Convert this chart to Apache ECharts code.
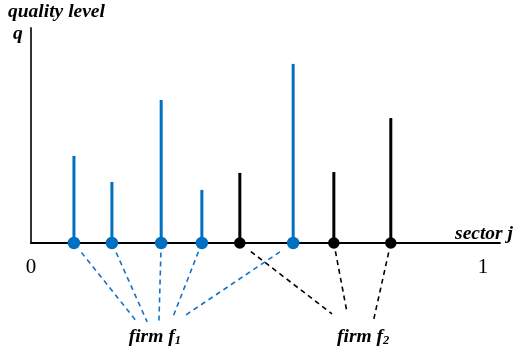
<!DOCTYPE html>
<html>
<head>
<meta charset="utf-8">
<script src="https://cdn.jsdelivr.net/npm/echarts@6/dist/echarts.min.js"></script>
<style>html,body{margin:0;padding:0;background:#fff}#c{width:515px;height:349px}</style>
</head>
<body>
<div id="c"></div>
<script>
// sector position j in [0,1]
const sectorX = [0.095, 0.179, 0.288, 0.378, 0.462, 0.580, 0.670, 0.796];
// quality level (relative)
const quality = [0.405, 0.284, 0.665, 0.247, 0.326, 0.833, 0.330, 0.581];
// owning firm of each sector
const firm = [1, 1, 1, 1, 2, 1, 2, 2];
// endpoint of the dashed link from each sector toward its firm label
const linkEndX = [0.2345, 0.257, 0.283, 0.314, 0.666, 0.336, 0.699, 0.757];
const linkEndY = [-0.367, -0.367, -0.367, -0.344, -0.330, -0.344, -0.321, -0.367];
// firm labels
const firmNames = ['1', '2'];
const firmLabelX = [0.274, 0.735];
const firmLabelY = [-0.437, -0.437];
// x tick labels
const xTicks = [0, 1];

const BLUE = '#0070c0';
const BLACK = '#000000';
const colorOf = f => (f === 1 ? BLUE : BLACK);
const SERIF = '"Liberation Serif", "DejaVu Serif", serif';
const FS = 19.5;

const stems = sectorX.map((x, i) => ({ value: [x, quality[i]], itemStyle: { color: colorOf(firm[i]) } }));
const dots = sectorX.map((x, i) => ({ value: [x, 0], itemStyle: { color: colorOf(firm[i]), opacity: 1 }, symbolSize: firm[i] === 1 ? 12.5 : 11.5 }));
const t0 = 0.12;
const links = sectorX.map((x, i) => {
  const sx = x + (linkEndX[i] - x) * t0;
  const sy = 0 + (linkEndY[i] - 0) * t0;
  return { coords: [[sx, sy], [linkEndX[i], linkEndY[i]]], lineStyle: { color: firm[i] === 1 ? '#1672c6' : BLACK } };
});
const labels = firmNames.map((n, k) => ({ value: [firmLabelX[k], firmLabelY[k]], name: n }));

const chart = echarts.init(document.getElementById('c'), null, { renderer: 'canvas' });
chart.setOption({
  animation: false,
  backgroundColor: '#fff',
  grid: { left: 31, right: 15, top: 28, bottom: 106, containLabel: false },
  xAxis: {
    type: 'value', min: 0, max: 1.0376, interval: 1,
    axisLine: { show: true, onZero: false, lineStyle: { color: '#000', width: 1.8 } },
    axisTick: { show: false },
    splitLine: { show: false },
    axisLabel: {
      showMaxLabel: false, margin: 14,
      fontFamily: SERIF, fontSize: 21, color: '#000',
      formatter: v => (xTicks.includes(v) ? String(v) : '')
    }
  },
  yAxis: {
    type: 'value', min: 0, max: 1,
    axisLine: { show: true, lineStyle: { color: '#333', width: 2 } },
    axisTick: { show: false },
    splitLine: { show: false },
    axisLabel: { show: false }
  },
  graphic: [
    { type: 'text', left: 8, top: 1.5, style: { text: 'quality level', font: 'italic bold ' + FS + 'px ' + SERIF, fill: '#000' } },
    { type: 'text', left: 13, top: 23.5, style: { text: 'q', font: 'italic bold ' + FS + 'px ' + SERIF, fill: '#000' } },
    { type: 'text', right: 2, top: 223.5, style: { text: 'sector j', font: 'italic bold ' + FS + 'px ' + SERIF, fill: '#000' } }
  ],
  series: [
    {
      type: 'lines', coordinateSystem: 'cartesian2d', clip: false, silent: true, z: 1,
      lineStyle: { width: 1.6, type: [5, 4], opacity: 1 },
      data: links
    },
    {
      type: 'bar', barWidth: 3, silent: true, z: 2,
      data: stems
    },
    {
      type: 'scatter', symbol: 'circle', silent: true, z: 3,
      itemStyle: { opacity: 1 },
      data: dots
    },
    {
      type: 'scatter', symbolSize: 0, clip: false, silent: true, z: 4,
      itemStyle: { opacity: 1 },
      data: labels,
      label: {
        show: true, position: 'inside', opacity: 1,
        textBorderWidth: 0, textBorderColor: 'transparent',
        formatter: p => '{b|firm f}{s|' + p.name + '}',
        rich: {
          b: { fontFamily: SERIF, fontStyle: 'italic', fontWeight: 'bold', fontSize: FS, color: '#000', textBorderWidth: 0 },
          s: { fontFamily: SERIF, fontStyle: 'italic', fontWeight: 'bold', fontSize: 12.5, color: '#000', textBorderWidth: 0, padding: [7, 0, 0, 0] }
        }
      }
    }
  ]
});
</script>
</body>
</html>
